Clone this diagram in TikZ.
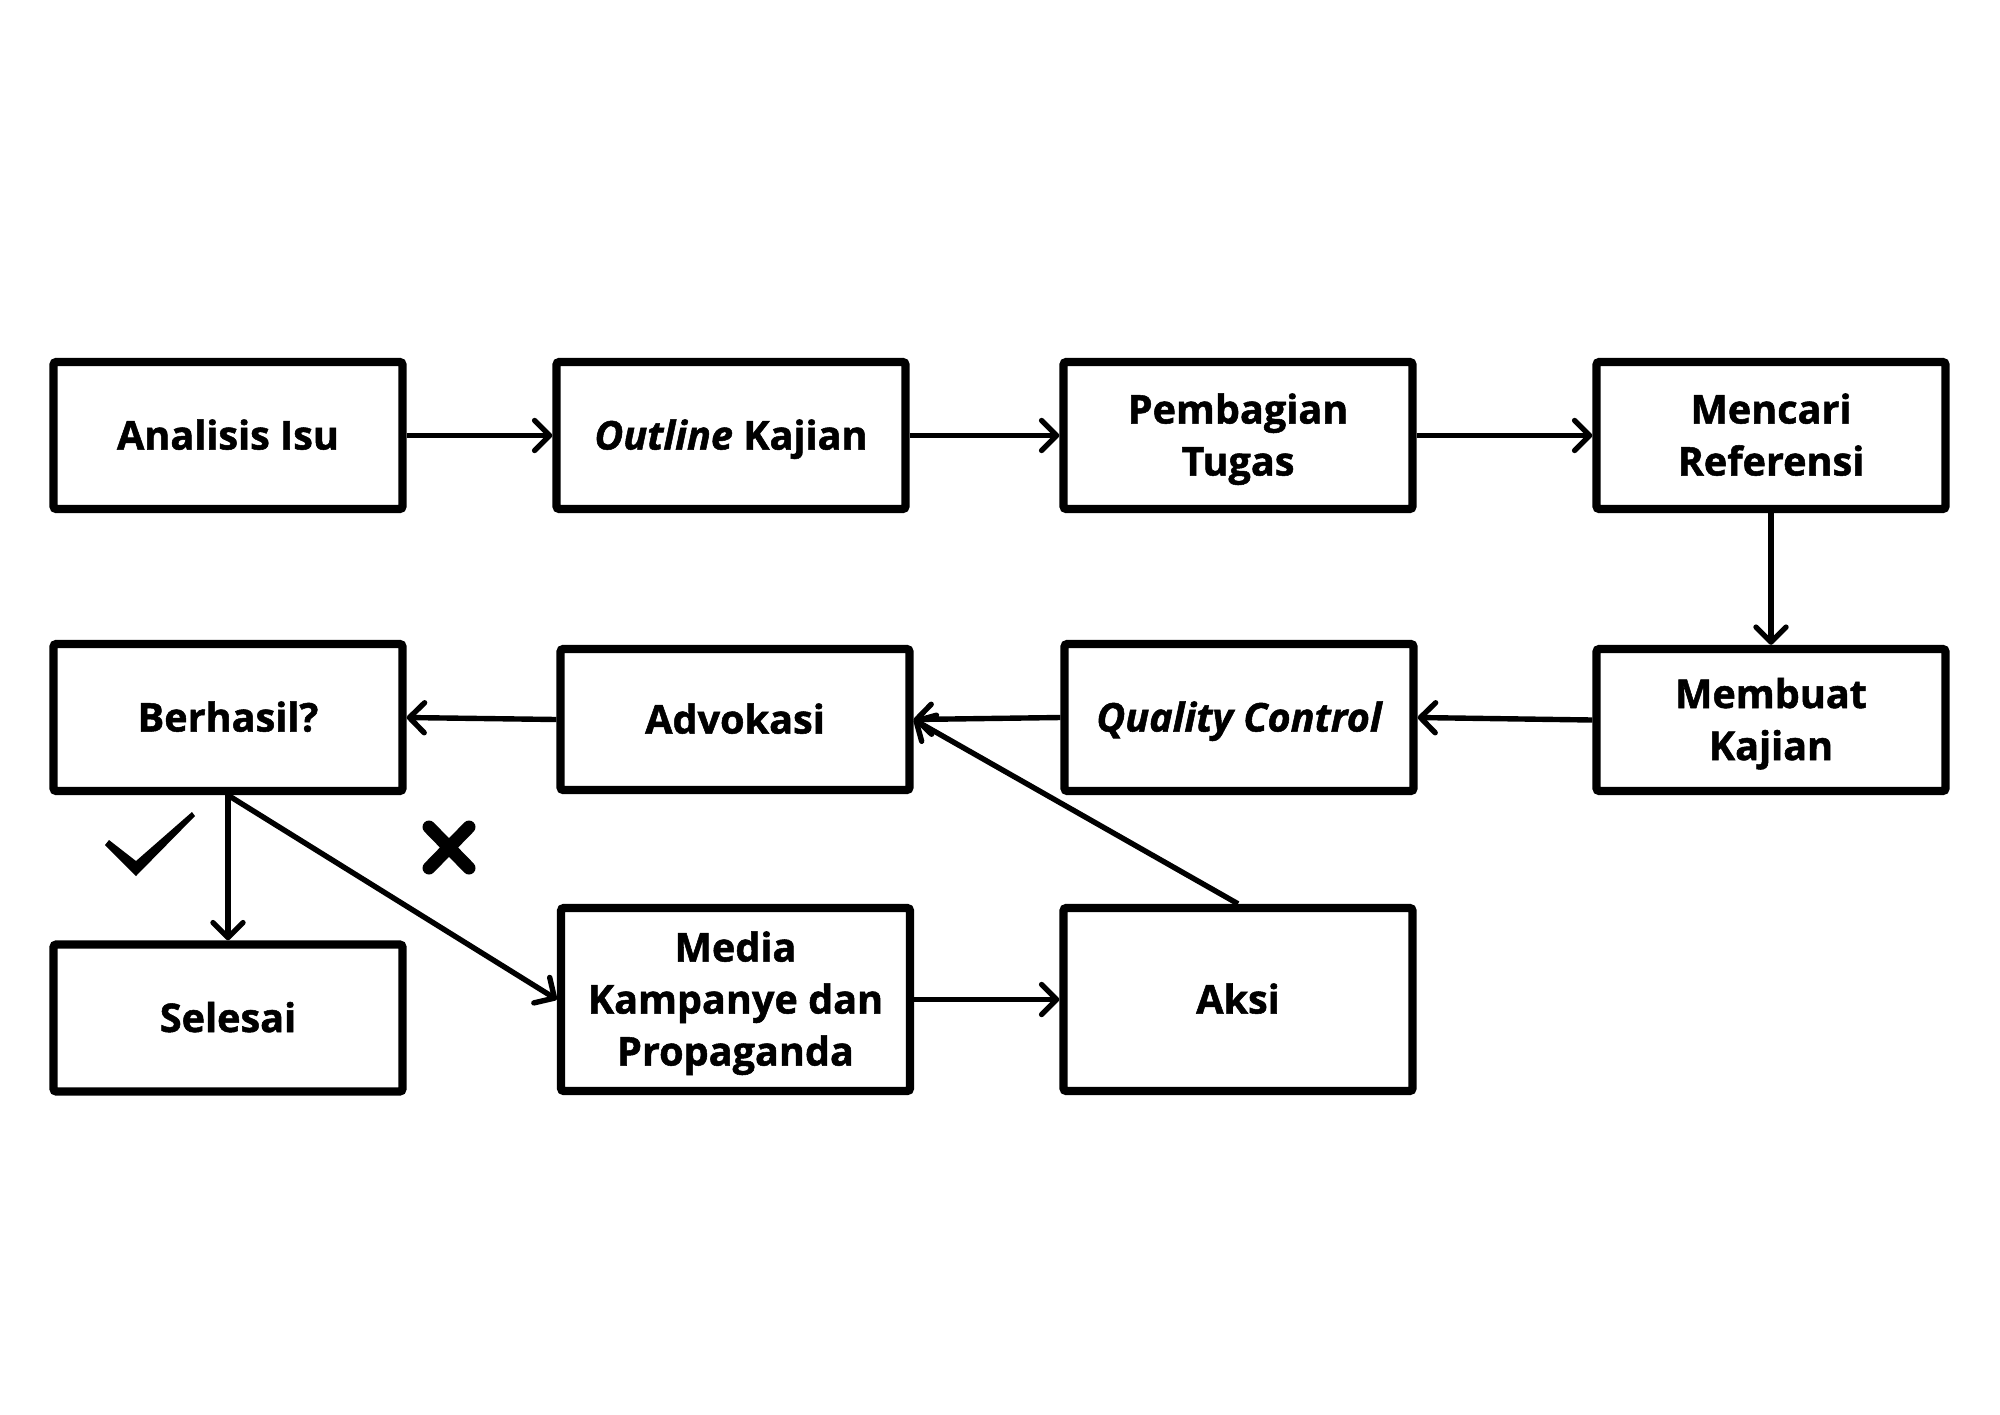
\documentclass[tikz,border=0pt]{standalone}
\usepackage{fontspec}
\setmainfont{Open Sans}[BoldFeatures={FakeBold=1.3},BoldItalicFeatures={FakeBold=1.3}]
\usetikzlibrary{arrows.meta}
\newcommand\lstr{\rule[-5pt]{0pt}{24pt}}
\begin{document}
\begin{tikzpicture}[x=0.5pt,y=-0.5pt,
  box/.style={draw, line width=4.2pt, rounded corners=1.5pt, minimum width=174.5pt, minimum height=73.5pt,
    align=center, inner sep=0pt, font=\fontsize{19.8}{26}\selectfont\bfseries},
  conn/.style={line width=2.7pt, -{Straight Barb[length=7.5pt,width=15pt,line cap=round,line join=round]}}]
\useasboundingbox[fill=white] (0,0) rectangle (2000,1414);
\node[box] (analisis) at (228,435.5) {\lstr Analisis Isu};
\node[box] (outline) at (731,435.5) {\lstr\itshape Outline\upshape{} Kajian};
\node[box] (pembagian) at (1238,435.5) {\lstr Pembagian\\\lstr Tugas};
\node[box] (mencari) at (1771,435.5) {\lstr Mencari\\\lstr Referensi};
\node[box] (berhasil) at (228,717.5) {\lstr Berhasil?};
\node[box, minimum height=70.5pt] (advokasi) at (735,719.5) {\lstr Advokasi};
\node[box] (qc) at (1239,717.5) {\lstr\itshape Quality Control};
\node[box, minimum height=71pt] (membuat) at (1771,720) {\lstr Membuat\\\lstr Kajian};
\node[box] (selesai) at (228,1018) {\lstr Selesai};
\node[box, minimum height=91.5pt] (media) at (735.5,999.5) {\lstr Media\\\lstr Kampanye dan\\\lstr Propaganda};
\node[box, minimum height=91.5pt] (aksi) at (1238,999.5) {\lstr Aksi};

\draw[conn] (analisis.east) -- (outline.west);
\draw[conn] (outline.east) -- (pembagian.west);
\draw[conn] (pembagian.east) -- (mencari.west);
\draw[conn] (mencari.south) -- (membuat.north);
\draw[conn] (membuat.west) -- (qc.east);
\draw[conn] (qc.west) -- (advokasi.east);
\draw[conn] (advokasi.west) -- (berhasil.east);
\draw[conn] (berhasil.south) -- (selesai.north);
\draw[conn] (berhasil.south) -- (media.west);
\draw[conn] (media.east) -- (aksi.west);
\draw[conn] (aksi.north) -- (advokasi.east);

% check mark
\fill (105,845) -- (136,876) -- (195,816) -- (192,812) -- (136,861) -- (109,840) -- cycle;
% cross mark
\draw[line width=6.5pt, line cap=round] (429,827) -- (469,868) (469,827) -- (429,868);
\end{tikzpicture}
\end{document}
